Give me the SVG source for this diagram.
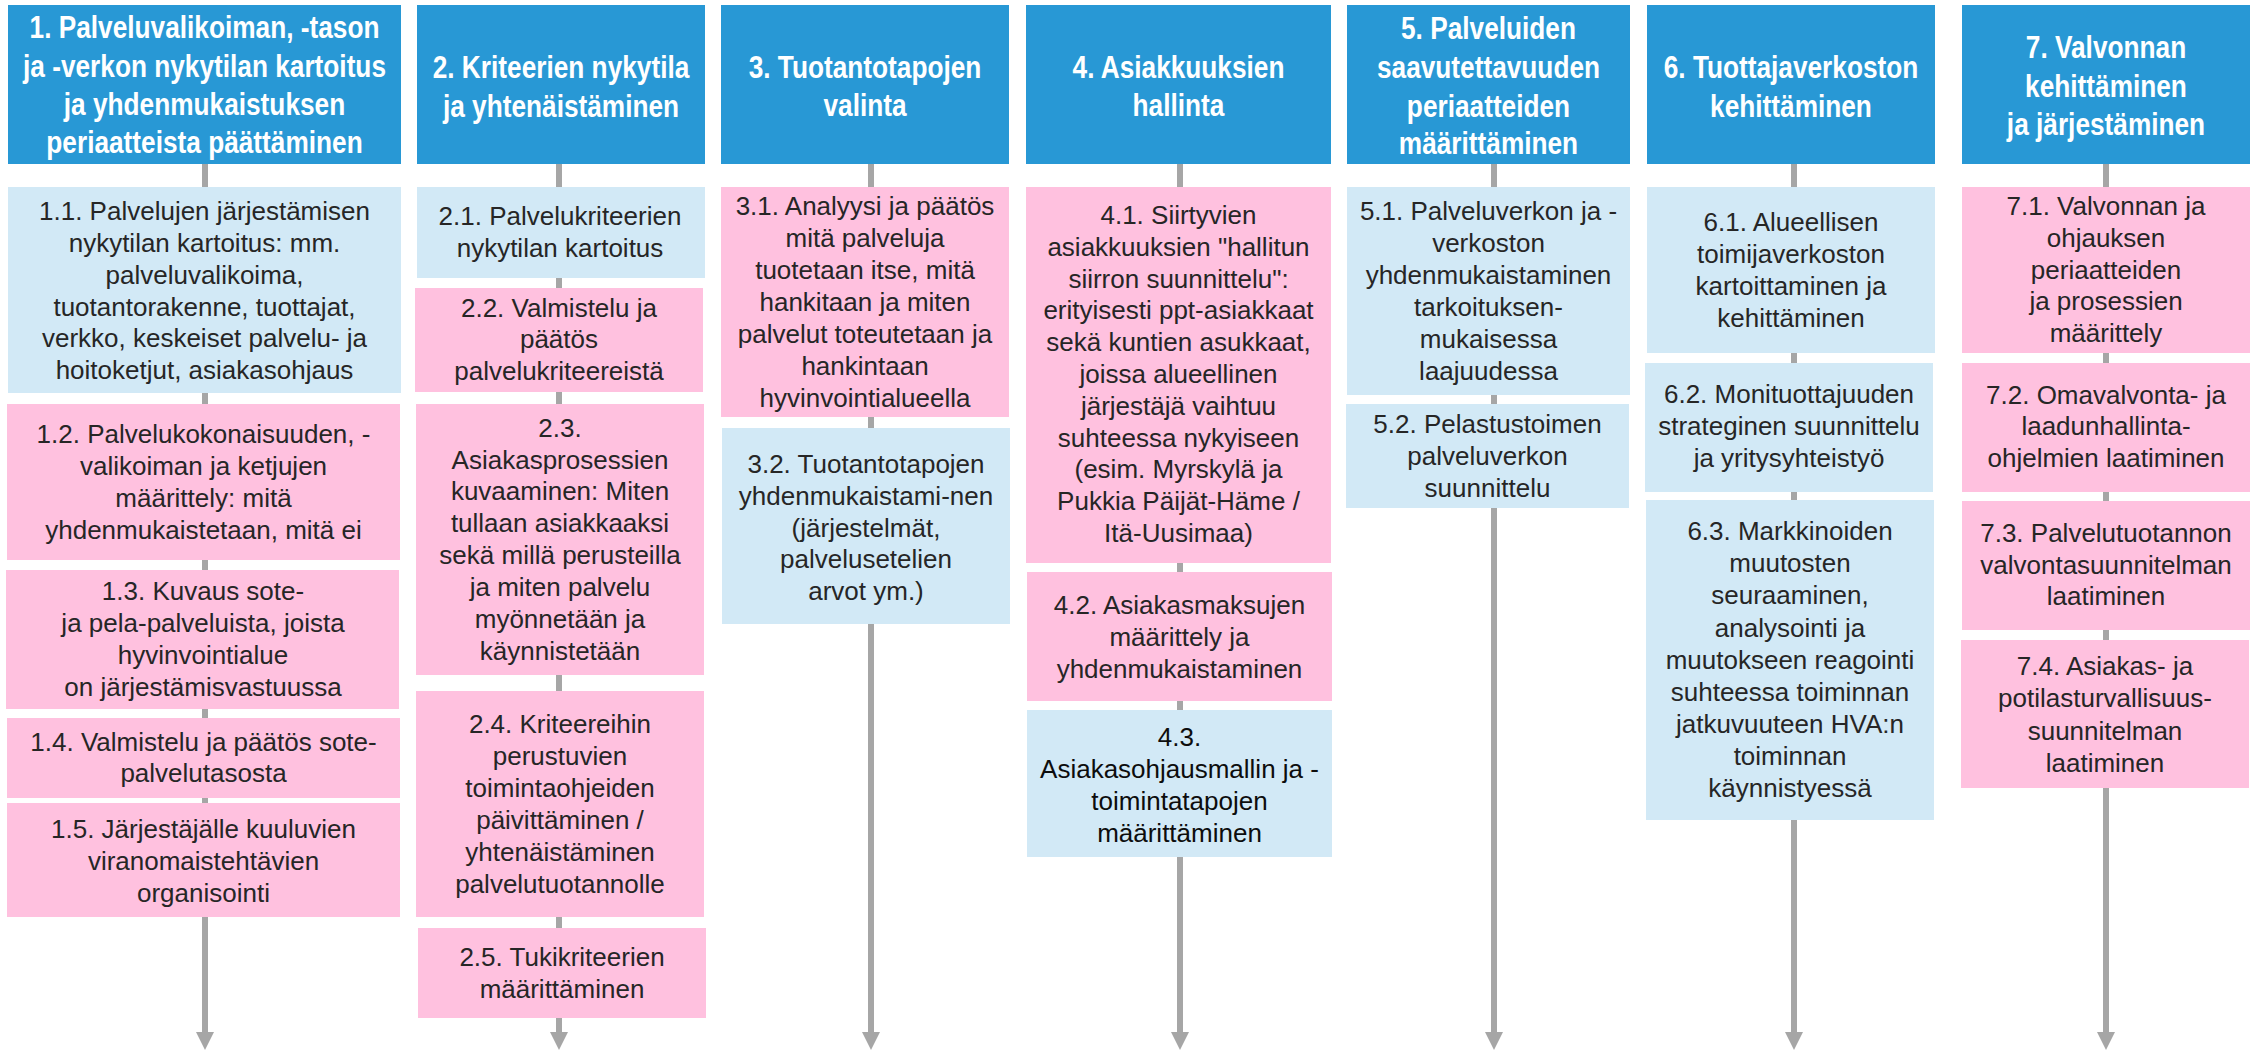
<svg xmlns="http://www.w3.org/2000/svg" width="2254" height="1050" viewBox="0 0 2254 1050">
<style>
.hb{fill:#2898D5}
.lb{fill:#D2E9F6}
.pk{fill:#FFC1DF}
.ht{font-family:'Liberation Sans',Arial,sans-serif;font-weight:bold;font-size:32px;fill:#FFFFFF;text-anchor:middle}
.bt{font-family:'Liberation Sans',Arial,sans-serif;font-size:26px;fill:#262626;text-anchor:middle}
.cn{stroke:#A6A6A6;stroke-width:6;fill:none}
</style>
<defs>
<marker id="ah" markerUnits="userSpaceOnUse" markerWidth="18" markerHeight="18" viewBox="0 0 18 18" refX="0" refY="9" orient="auto">
<path d="M0,0 L18,9 L0,18 z" fill="#A6A6A6"/>
</marker>
</defs>
<rect width="2254" height="1050" fill="#FFFFFF"/>
<g id="connectors">
<line class="cn" x1="205" y1="164" x2="205" y2="187"/>
<line class="cn" x1="205" y1="393" x2="205" y2="404"/>
<line class="cn" x1="205" y1="560" x2="205" y2="570"/>
<line class="cn" x1="205" y1="709" x2="205" y2="718"/>
<line class="cn" x1="205" y1="798" x2="205" y2="803"/>
<line class="cn" x1="205" y1="917" x2="205" y2="1032" marker-end="url(#ah)"/>
<line class="cn" x1="559" y1="164" x2="559" y2="187"/>
<line class="cn" x1="559" y1="278" x2="559" y2="288"/>
<line class="cn" x1="559" y1="392" x2="559" y2="404"/>
<line class="cn" x1="559" y1="675" x2="559" y2="691"/>
<line class="cn" x1="559" y1="917" x2="559" y2="928"/>
<line class="cn" x1="559" y1="1018" x2="559" y2="1032" marker-end="url(#ah)"/>
<line class="cn" x1="871" y1="164" x2="871" y2="187"/>
<line class="cn" x1="871" y1="417" x2="871" y2="428"/>
<line class="cn" x1="871" y1="624" x2="871" y2="1032" marker-end="url(#ah)"/>
<line class="cn" x1="1180" y1="164" x2="1180" y2="187"/>
<line class="cn" x1="1180" y1="563" x2="1180" y2="572"/>
<line class="cn" x1="1180" y1="701" x2="1180" y2="710"/>
<line class="cn" x1="1180" y1="857" x2="1180" y2="1032" marker-end="url(#ah)"/>
<line class="cn" x1="1494" y1="164" x2="1494" y2="187"/>
<line class="cn" x1="1494" y1="395" x2="1494" y2="404"/>
<line class="cn" x1="1494" y1="508" x2="1494" y2="1032" marker-end="url(#ah)"/>
<line class="cn" x1="1794" y1="164" x2="1794" y2="187"/>
<line class="cn" x1="1794" y1="353" x2="1794" y2="363"/>
<line class="cn" x1="1794" y1="492" x2="1794" y2="500"/>
<line class="cn" x1="1794" y1="820" x2="1794" y2="1032" marker-end="url(#ah)"/>
<line class="cn" x1="2106" y1="164" x2="2106" y2="187"/>
<line class="cn" x1="2106" y1="353" x2="2106" y2="363"/>
<line class="cn" x1="2106" y1="492" x2="2106" y2="501"/>
<line class="cn" x1="2106" y1="630" x2="2106" y2="640"/>
<line class="cn" x1="2106" y1="788" x2="2106" y2="1032" marker-end="url(#ah)"/>
</g>

<g id="h1"><rect class="hb" x="8" y="5" width="393" height="159"/>
<g transform="translate(204.5 0) scale(0.82 1)"><text class="ht"><tspan x="0" y="38">1. Palveluvalikoiman, -tason</tspan><tspan x="0" y="77">ja -verkon nykytilan kartoitus</tspan><tspan x="0" y="115">ja yhdenmukaistuksen</tspan><tspan x="0" y="153">periaatteista päättäminen</tspan></text></g></g>
<g id="n1_1"><rect class="lb" x="8" y="187" width="393" height="206"/>
<text class="bt"><tspan x="204.5" y="220">1.1. Palvelujen järjestämisen</tspan><tspan x="204.5" y="252">nykytilan kartoitus: mm.</tspan><tspan x="204.5" y="284">palveluvalikoima,</tspan><tspan x="204.5" y="316">tuotantorakenne, tuottajat,</tspan><tspan x="204.5" y="347">verkko, keskeiset palvelu- ja</tspan><tspan x="204.5" y="379">hoitoketjut, asiakasohjaus</tspan></text></g>
<g id="n1_2"><rect class="pk" x="7" y="404" width="393" height="156"/>
<text class="bt"><tspan x="203.5" y="443">1.2. Palvelukokonaisuuden, -</tspan><tspan x="203.5" y="475">valikoiman ja ketjujen</tspan><tspan x="203.5" y="507">määrittely: mitä</tspan><tspan x="203.5" y="539">yhdenmukaistetaan, mitä ei</tspan></text></g>
<g id="n1_3"><rect class="pk" x="6" y="570" width="393" height="139"/>
<text class="bt"><tspan x="203" y="600">1.3. Kuvaus sote-</tspan><tspan x="203" y="632">ja pela-palveluista, joista</tspan><tspan x="203" y="664">hyvinvointialue</tspan><tspan x="203" y="696">on järjestämisvastuussa</tspan></text></g>
<g id="n1_4"><rect class="pk" x="7" y="718" width="393" height="80"/>
<text class="bt"><tspan x="203.5" y="751">1.4. Valmistelu ja päätös sote-</tspan><tspan x="203.5" y="782">palvelutasosta</tspan></text></g>
<g id="n1_5"><rect class="pk" x="7" y="803" width="393" height="114"/>
<text class="bt"><tspan x="203.5" y="838">1.5. Järjestäjälle kuuluvien</tspan><tspan x="203.5" y="870">viranomaistehtävien</tspan><tspan x="203.5" y="902">organisointi</tspan></text></g>

<g id="h2"><rect class="hb" x="417" y="5" width="288" height="159"/>
<g transform="translate(561 0) scale(0.82 1)"><text class="ht"><tspan x="0" y="78">2. Kriteerien nykytila</tspan><tspan x="0" y="117">ja yhtenäistäminen</tspan></text></g></g>
<g id="n2_1"><rect class="lb" x="417" y="187" width="288" height="91"/>
<text class="bt"><tspan x="560" y="225">2.1. Palvelukriteerien</tspan><tspan x="560" y="257">nykytilan kartoitus</tspan></text></g>
<g id="n2_2"><rect class="pk" x="415" y="288" width="288" height="104"/>
<text class="bt"><tspan x="559" y="317">2.2. Valmistelu ja</tspan><tspan x="559" y="348">päätös</tspan><tspan x="559" y="380">palvelukriteereistä</tspan></text></g>
<g id="n2_3"><rect class="pk" x="416" y="404" width="288" height="271"/>
<text class="bt"><tspan x="560" y="437">2.3.</tspan><tspan x="560" y="469">Asiakasprosessien</tspan><tspan x="560" y="500">kuvaaminen: Miten</tspan><tspan x="560" y="532">tullaan asiakkaaksi</tspan><tspan x="560" y="564">sekä millä perusteilla</tspan><tspan x="560" y="596">ja miten palvelu</tspan><tspan x="560" y="628">myönnetään ja</tspan><tspan x="560" y="660">käynnistetään</tspan></text></g>
<g id="n2_4"><rect class="pk" x="416" y="691" width="288" height="226"/>
<text class="bt"><tspan x="560" y="733">2.4. Kriteereihin</tspan><tspan x="560" y="765">perustuvien</tspan><tspan x="560" y="797">toimintaohjeiden</tspan><tspan x="560" y="829">päivittäminen /</tspan><tspan x="560" y="861">yhtenäistäminen</tspan><tspan x="560" y="893">palvelutuotannolle</tspan></text></g>
<g id="n2_5"><rect class="pk" x="418" y="928" width="288" height="90"/>
<text class="bt"><tspan x="562" y="966">2.5. Tukikriteerien</tspan><tspan x="562" y="998">määrittäminen</tspan></text></g>

<g id="h3"><rect class="hb" x="721" y="5" width="288" height="159"/>
<g transform="translate(865 0) scale(0.82 1)"><text class="ht"><tspan x="0" y="78">3. Tuotantotapojen</tspan><tspan x="0" y="116">valinta</tspan></text></g></g>
<g id="n3_1"><rect class="pk" x="721" y="187" width="288" height="230"/>
<text class="bt"><tspan x="865" y="215">3.1. Analyysi ja päätös</tspan><tspan x="865" y="247">mitä palveluja</tspan><tspan x="865" y="279">tuotetaan itse, mitä</tspan><tspan x="865" y="311">hankitaan ja miten</tspan><tspan x="865" y="343">palvelut toteutetaan ja</tspan><tspan x="865" y="375">hankintaan</tspan><tspan x="865" y="407">hyvinvointialueella</tspan></text></g>
<g id="n3_2"><rect class="lb" x="722" y="428" width="288" height="196"/>
<text class="bt"><tspan x="866" y="473">3.2. Tuotantotapojen</tspan><tspan x="866" y="505">yhdenmukaistami-nen</tspan><tspan x="866" y="537">(järjestelmät,</tspan><tspan x="866" y="568">palvelusetelien</tspan><tspan x="866" y="600">arvot ym.)</tspan></text></g>

<g id="h4"><rect class="hb" x="1026" y="5" width="305" height="159"/>
<g transform="translate(1178.5 0) scale(0.82 1)"><text class="ht"><tspan x="0" y="78">4. Asiakkuuksien</tspan><tspan x="0" y="116">hallinta</tspan></text></g></g>
<g id="n4_1"><rect class="pk" x="1026" y="187" width="305" height="376"/>
<text class="bt"><tspan x="1178.5" y="224">4.1. Siirtyvien</tspan><tspan x="1178.5" y="256">asiakkuuksien "hallitun</tspan><tspan x="1178.5" y="288">siirron suunnittelu":</tspan><tspan x="1178.5" y="319">erityisesti ppt-asiakkaat</tspan><tspan x="1178.5" y="351">sekä kuntien asukkaat,</tspan><tspan x="1178.5" y="383">joissa alueellinen</tspan><tspan x="1178.5" y="415">järjestäjä vaihtuu</tspan><tspan x="1178.5" y="447">suhteessa nykyiseen</tspan><tspan x="1178.5" y="478">(esim. Myrskylä ja</tspan><tspan x="1178.5" y="510">Pukkia Päijät-Häme /</tspan><tspan x="1178.5" y="542">Itä-Uusimaa)</tspan></text></g>
<g id="n4_2"><rect class="pk" x="1027" y="572" width="305" height="129"/>
<text class="bt"><tspan x="1179.5" y="614">4.2. Asiakasmaksujen</tspan><tspan x="1179.5" y="646">määrittely ja</tspan><tspan x="1179.5" y="678">yhdenmukaistaminen</tspan></text></g>
<g id="n4_3"><rect class="lb" x="1027" y="710" width="305" height="147"/>
<text class="bt" style="fill:#0D0D0D"><tspan x="1179.5" y="746">4.3.</tspan><tspan x="1179.5" y="778">Asiakasohjausmallin ja -</tspan><tspan x="1179.5" y="810">toimintatapojen</tspan><tspan x="1179.5" y="842">määrittäminen</tspan></text></g>

<g id="h5"><rect class="hb" x="1347" y="5" width="283" height="159"/>
<g transform="translate(1488.5 0) scale(0.82 1)"><text class="ht"><tspan x="0" y="39">5. Palveluiden</tspan><tspan x="0" y="78">saavutettavuuden</tspan><tspan x="0" y="117">periaatteiden</tspan><tspan x="0" y="154">määrittäminen</tspan></text></g></g>
<g id="n5_1"><rect class="lb" x="1347" y="187" width="283" height="208"/>
<text class="bt"><tspan x="1488.5" y="220">5.1. Palveluverkon ja -</tspan><tspan x="1488.5" y="252">verkoston</tspan><tspan x="1488.5" y="284">yhdenmukaistaminen</tspan><tspan x="1488.5" y="316">tarkoituksen-</tspan><tspan x="1488.5" y="348">mukaisessa</tspan><tspan x="1488.5" y="380">laajuudessa</tspan></text></g>
<g id="n5_2"><rect class="lb" x="1346" y="404" width="283" height="104"/>
<text class="bt"><tspan x="1487.5" y="433">5.2. Pelastustoimen</tspan><tspan x="1487.5" y="465">palveluverkon</tspan><tspan x="1487.5" y="497">suunnittelu</tspan></text></g>

<g id="h6"><rect class="hb" x="1647" y="5" width="288" height="159"/>
<g transform="translate(1791 0) scale(0.82 1)"><text class="ht"><tspan x="0" y="78">6. Tuottajaverkoston</tspan><tspan x="0" y="117">kehittäminen</tspan></text></g></g>
<g id="n6_1"><rect class="lb" x="1647" y="187" width="288" height="166"/>
<text class="bt"><tspan x="1791" y="231">6.1. Alueellisen</tspan><tspan x="1791" y="263">toimijaverkoston</tspan><tspan x="1791" y="295">kartoittaminen ja</tspan><tspan x="1791" y="327">kehittäminen</tspan></text></g>
<g id="n6_2"><rect class="lb" x="1645" y="363" width="288" height="129"/>
<text class="bt"><tspan x="1789" y="403">6.2. Monituottajuuden</tspan><tspan x="1789" y="435">strateginen suunnittelu</tspan><tspan x="1789" y="467">ja yritysyhteistyö</tspan></text></g>
<g id="n6_3"><rect class="lb" x="1646" y="500" width="288" height="320"/>
<text class="bt"><tspan x="1790" y="540">6.3. Markkinoiden</tspan><tspan x="1790" y="572">muutosten</tspan><tspan x="1790" y="604">seuraaminen,</tspan><tspan x="1790" y="637">analysointi ja</tspan><tspan x="1790" y="669">muutokseen reagointi</tspan><tspan x="1790" y="701">suhteessa toiminnan</tspan><tspan x="1790" y="733">jatkuvuuteen HVA:n</tspan><tspan x="1790" y="765">toiminnan</tspan><tspan x="1790" y="797">käynnistyessä</tspan></text></g>

<g id="h7"><rect class="hb" x="1962" y="5" width="288" height="159"/>
<g transform="translate(2106 0) scale(0.82 1)"><text class="ht"><tspan x="0" y="58">7. Valvonnan</tspan><tspan x="0" y="97">kehittäminen</tspan><tspan x="0" y="135">ja järjestäminen</tspan></text></g></g>
<g id="n7_1"><rect class="pk" x="1962" y="187" width="288" height="166"/>
<text class="bt"><tspan x="2106" y="215">7.1. Valvonnan ja</tspan><tspan x="2106" y="247">ohjauksen</tspan><tspan x="2106" y="279">periaatteiden</tspan><tspan x="2106" y="310">ja prosessien</tspan><tspan x="2106" y="342">määrittely</tspan></text></g>
<g id="n7_2"><rect class="pk" x="1962" y="363" width="288" height="129"/>
<text class="bt"><tspan x="2106" y="404">7.2. Omavalvonta- ja</tspan><tspan x="2106" y="435">laadunhallinta-</tspan><tspan x="2106" y="467">ohjelmien laatiminen</tspan></text></g>
<g id="n7_3"><rect class="pk" x="1962" y="501" width="288" height="129"/>
<text class="bt"><tspan x="2106" y="542">7.3. Palvelutuotannon</tspan><tspan x="2106" y="574">valvontasuunnitelman</tspan><tspan x="2106" y="605">laatiminen</tspan></text></g>
<g id="n7_4"><rect class="pk" x="1961" y="640" width="288" height="148"/>
<text class="bt"><tspan x="2105" y="675">7.4. Asiakas- ja</tspan><tspan x="2105" y="707">potilasturvallisuus-</tspan><tspan x="2105" y="740">suunnitelman</tspan><tspan x="2105" y="772">laatiminen</tspan></text></g>
</svg>
